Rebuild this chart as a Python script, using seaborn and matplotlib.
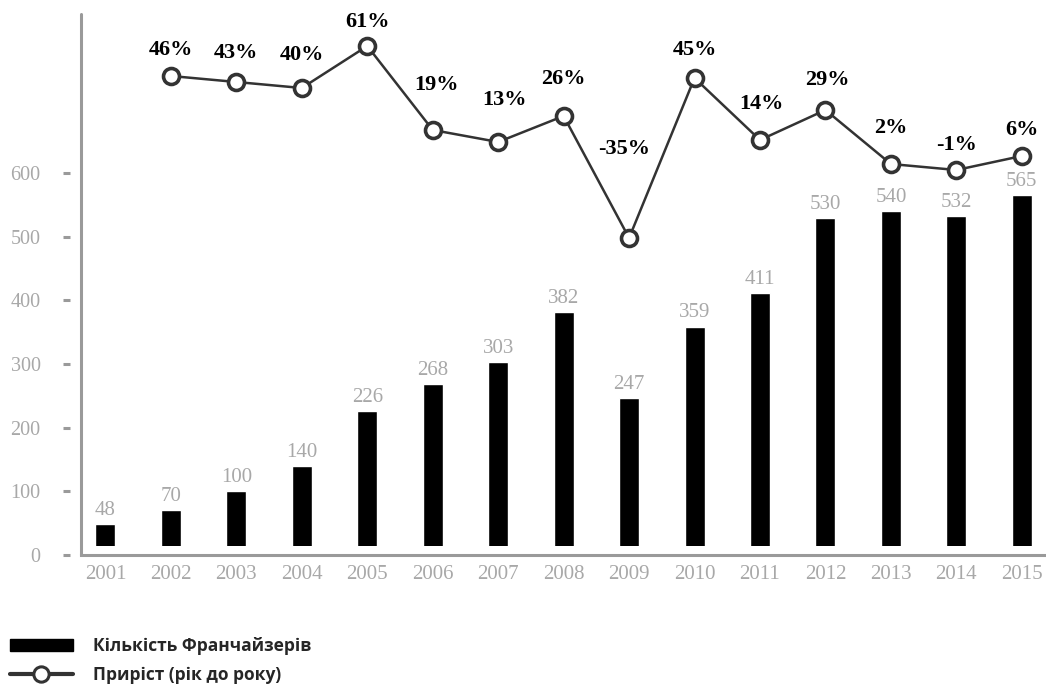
import numpy as np
import pandas as pd
import matplotlib
matplotlib.use('Agg')
import matplotlib.pyplot as plt
import seaborn as sns
from matplotlib.patches import Patch
from matplotlib.lines import Line2D

years = ['2001', '2002', '2003', '2004', '2005', '2006', '2007', '2008',
         '2009', '2010', '2011', '2012', '2013', '2014', '2015']
franchisors = [48, 70, 100, 140, 226, 268, 303, 382, 247, 359, 411, 530, 540, 532, 565]
growth_years = years[1:]
growth = [46, 43, 40, 61, 19, 13, 26, -35, 45, 14, 29, 2, -1, 6]

bar_label = 'Кількість Франчайзерів'
line_label = 'Приріст (рік до року)'

# label nudges in pixels (dx, dy above the marker)
pct_offsets = [(0, 26), (0, 29), (0, 33), (0, 24), (4, 45), (6, 42), (0, 37),
               (-5, 89), (0, 28), (1, 36), (2, 30), (0, 36), (0, 25), (0, 26)]

sns.set_style('white')
plt.rcParams['font.family'] = ['Liberation Serif', 'DejaVu Serif']

grey = '#a8a8a8'
spine_grey = '#9a9a9a'
line_col = '#333333'

bars = pd.DataFrame({'year': years, 'count': franchisors})
bars['pos'] = np.arange(len(years))
line = pd.DataFrame({'year': growth_years, 'growth': growth})
line['pos'] = [years.index(y) for y in growth_years]

fig = plt.figure(figsize=(10.46, 6.88), dpi=100)
ax = fig.add_axes([81 / 1046, 1 - 555 / 688, 1 - 81 / 1046, (555 - 14) / 688])

sns.barplot(data=bars, x='pos', y='count', color='black', saturation=1,
            width=0.305, native_scale=True, ax=ax)
for c in ax.containers:
    ax.bar_label(c, labels=[str(v) for v in franchisors], padding=3,
                 color=grey, fontsize=15)
ax.axhspan(0, 14, color='white', zorder=1.5, lw=0)

ax.set_xlim(-0.374, 14.37)
ax.set_ylim(0, 850)
ax.set_yticks([0, 100, 200, 300, 400, 500, 600])
ax.set_xticks(bars['pos'])
ax.set_xticklabels(years)
ax.set_xlabel('')
ax.set_ylabel('')

for s in ['top', 'right']:
    ax.spines[s].set_visible(False)
ax.spines['bottom'].set_color(spine_grey)
ax.spines['bottom'].set_linewidth(2.2)
ax.spines['bottom'].set_zorder(3)
ax.spines['left'].set_position(('outward', 8))
ax.spines['left'].set_visible(False)
ax.axvline(-0.374, color=spine_grey, lw=2.2, clip_on=False, zorder=3)

ax.tick_params(axis='y', direction='out', length=5, width=2.2, color=spine_grey,
               labelcolor=grey, labelsize=14.5, pad=16)
ax.tick_params(axis='x', length=0, labelcolor=grey, labelsize=15, pad=7)
ax.yaxis.get_major_ticks()[0].tick1line.set_visible(False)

ax2 = ax.twinx()
sns.lineplot(data=line, x='pos', y='growth', color=line_col, lw=1.8,
             marker='o', markersize=11.5, markerfacecolor='white',
             markeredgecolor=line_col, markeredgewidth=2.6, ax=ax2)
ax2.set_ylim(-193.5, 77)
ax2.set_xlim(-0.374, 14.37)
ax2.axis('off')

for (x, v), (dx, dy) in zip(zip(line['pos'], growth), pct_offsets):
    ax2.annotate(f'{v}%', (x, v), xytext=(dx, dy), textcoords='offset pixels',
                 ha='center', va='center', fontsize=16, fontweight='bold',
                 color='black')

handles = [Patch(facecolor='black', edgecolor='black'),
           Line2D([], [], color=line_col, lw=3, marker='o', markersize=11,
                  markerfacecolor='white', markeredgecolor=line_col,
                  markeredgewidth=2.2)]
fig.legend(handles, [bar_label, line_label], loc='lower left',
           bbox_to_anchor=(0.003, -0.004), frameon=False, handlelength=3.6,
           handleheight=0.7, handletextpad=1.2, labelspacing=0.6,
           borderaxespad=0,
           prop={'family': ['Open Sans', 'DejaVu Sans'], 'weight': 'bold',
                 'size': 12.5})

fig.savefig('out.png', dpi=100)
